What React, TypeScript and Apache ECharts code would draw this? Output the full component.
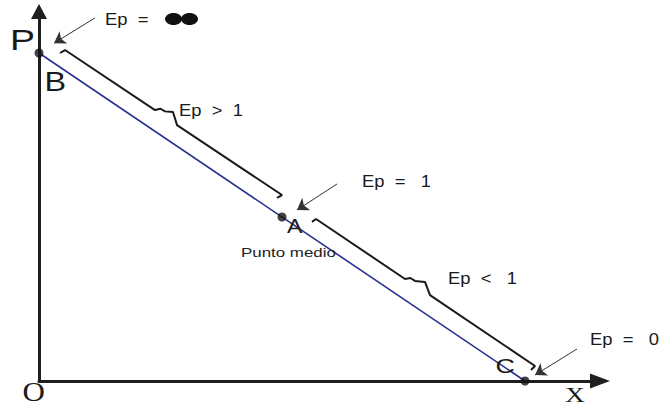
import React, { useEffect, useRef } from "react";
import * as echarts from "echarts";

// Demand line (quantity X, price P)
const demandQ = [0, 10];
const demandP = [10, 0];

// Marked points on the demand line
const pointNames = ["B", "A", "C"];
const pointQ = [0, 5, 10];
const pointP = [10, 5, 0];

// Bracket "Ep > 1" (upper half)
const bracket1Q = [0.432, 0.535, 2.387, 2.5, 2.593, 2.757, 2.84, 5.0, 4.897];
const bracket1P = [10.0, 10.09, 8.26, 8.3, 8.22, 8.2, 7.8, 5.67, 5.58];

// Bracket "Ep < 1" (lower half)
const bracket2Q = [5.617, 5.7, 7.531, 7.64, 7.737, 7.942, 8.045, 10.206, 10.123];
const bracket2P = [4.85, 4.94, 3.11, 3.14, 3.05, 3.02, 2.62, 0.457, 0.335];

// Pointer arrows [fromQ, fromP, toQ, toP]
const arrowFromQ = [1.152, 6.132, 11.07];
const arrowFromP = [11.07, 6.006, 0.976];
const arrowToQ = [0.309, 5.309, 10.206];
const arrowToP = [10.3, 5.213, 0.183];

// Axis extents
const xMax = 11.543;
const yMax = 11.265;

// Texts
const elasticityTexts = ["Ep  =", "Ep  >  1", "Ep  =   1", "Ep  <   1", "Ep  =   0"];
const pointLabelText = "Punto medio";
const axisNames = ["P", "X", "O"];

export default function App() {
  const ref = useRef<HTMLDivElement>(null);

  useEffect(() => {
    if (!ref.current) return;
    const chart = echarts.init(ref.current, undefined, { renderer: "svg" });

    const sans = "'Liberation Sans', Arial, sans-serif";
    const serif = "'Liberation Serif', 'Times New Roman', serif";
    const txt = (
      text: string,
      x: number,
      y: number,
      fontSize: number,
      scaleX: number,
      family = sans,
      fill = "#1a1a1a"
    ) => ({
      type: "text",
      x,
      y,
      scaleX,
      z: 10,
      style: {
        text,
        fill,
        fontSize,
        fontFamily: family,
        align: "left",
        verticalAlign: "middle",
      },
    });

    const option: any = {
      animation: false,
      backgroundColor: "#ffffff",
      grid: { left: 39, right: 67, top: 11.5, bottom: 26, containLabel: false },
      xAxis: {
        type: "value",
        min: 0,
        max: xMax,
        axisLine: {
          show: true,
          symbol: ["none", "triangle"],
          symbolSize: [15, 20],
          lineStyle: { color: "#1e1e1e", width: 3 },
        },
        axisTick: { show: false },
        axisLabel: { show: false },
        splitLine: { show: false },
      },
      yAxis: {
        type: "value",
        min: 0,
        max: yMax,
        axisLine: {
          show: true,
          symbol: ["none", "triangle"],
          symbolSize: [16, 15],
          lineStyle: { color: "#1e1e1e", width: 3 },
        },
        axisTick: { show: false },
        axisLabel: { show: false },
        splitLine: { show: false },
      },
      series: [
        {
          type: "line",
          name: "Demanda",
          data: demandQ.map((q, i) => [q, demandP[i]]),
          symbol: "none",
          clip: false,
          lineStyle: { color: "#27308f", width: 1.6 },
          z: 3,
        },
        {
          type: "line",
          name: "Ep > 1",
          data: bracket1Q.map((q, i) => [q, bracket1P[i]]),
          symbol: "none",
          clip: false,
          lineStyle: { color: "#1a1a1a", width: 2 },
          z: 3,
        },
        {
          type: "line",
          name: "Ep < 1",
          data: bracket2Q.map((q, i) => [q, bracket2P[i]]),
          symbol: "none",
          clip: false,
          lineStyle: { color: "#1a1a1a", width: 2 },
          z: 3,
        },
        {
          type: "lines",
          coordinateSystem: "cartesian2d",
          symbol: ["none", "arrow"],
          symbolSize: 11,
          lineStyle: { color: "#333333", width: 1, opacity: 1, curveness: 0 },
          data: arrowFromQ.map((q, i) => ({
            coords: [
              [q, arrowFromP[i]],
              [arrowToQ[i], arrowToP[i]],
            ],
          })),
          z: 4,
        },
        {
          type: "scatter",
          name: "Puntos",
          data: pointQ.map((q, i) => ({ name: pointNames[i], value: [q, pointP[i]] })),
          symbol: "circle",
          symbolSize: 9,
          clip: false,
          itemStyle: { color: "#111111" },
          z: 5,
        },
      ],
      graphic: [
        txt(elasticityTexts[0], 105, 19, 16, 1.15),
        { type: "ellipse", shape: { cx: 173.5, cy: 19, rx: 8.5, ry: 6 }, style: { fill: "#111111" }, z: 10 },
        { type: "ellipse", shape: { cx: 189.5, cy: 19, rx: 8.5, ry: 6 }, style: { fill: "#111111" }, z: 10 },
        txt(elasticityTexts[1], 179, 110, 16, 1.15),
        txt(elasticityTexts[2], 362, 181, 16, 1.15),
        txt(elasticityTexts[3], 448, 278, 16, 1.15),
        txt(elasticityTexts[4], 590, 339, 16, 1.15),
        txt(pointLabelText, 241, 252, 13, 1.3, sans, "#222222"),
        txt(axisNames[0], 10, 39, 30, 1.25),
        txt(pointNames[0], 44.5, 81, 27, 1.2),
        txt(pointNames[1], 287, 226, 21, 1.1),
        txt(pointNames[2], 495.5, 366, 21, 1.28),
        txt(axisNames[2], 22.4, 392, 27, 1.15, serif),
        txt(axisNames[1], 565, 394.5, 22, 1.25, serif),
      ],
    };

    chart.setOption(option);
    return () => chart.dispose();
  }, []);

  return (
    <div
      ref={ref}
      style={{ position: "fixed", left: 0, top: 0, width: 667, height: 407, background: "#fff" }}
    />
  );
}
